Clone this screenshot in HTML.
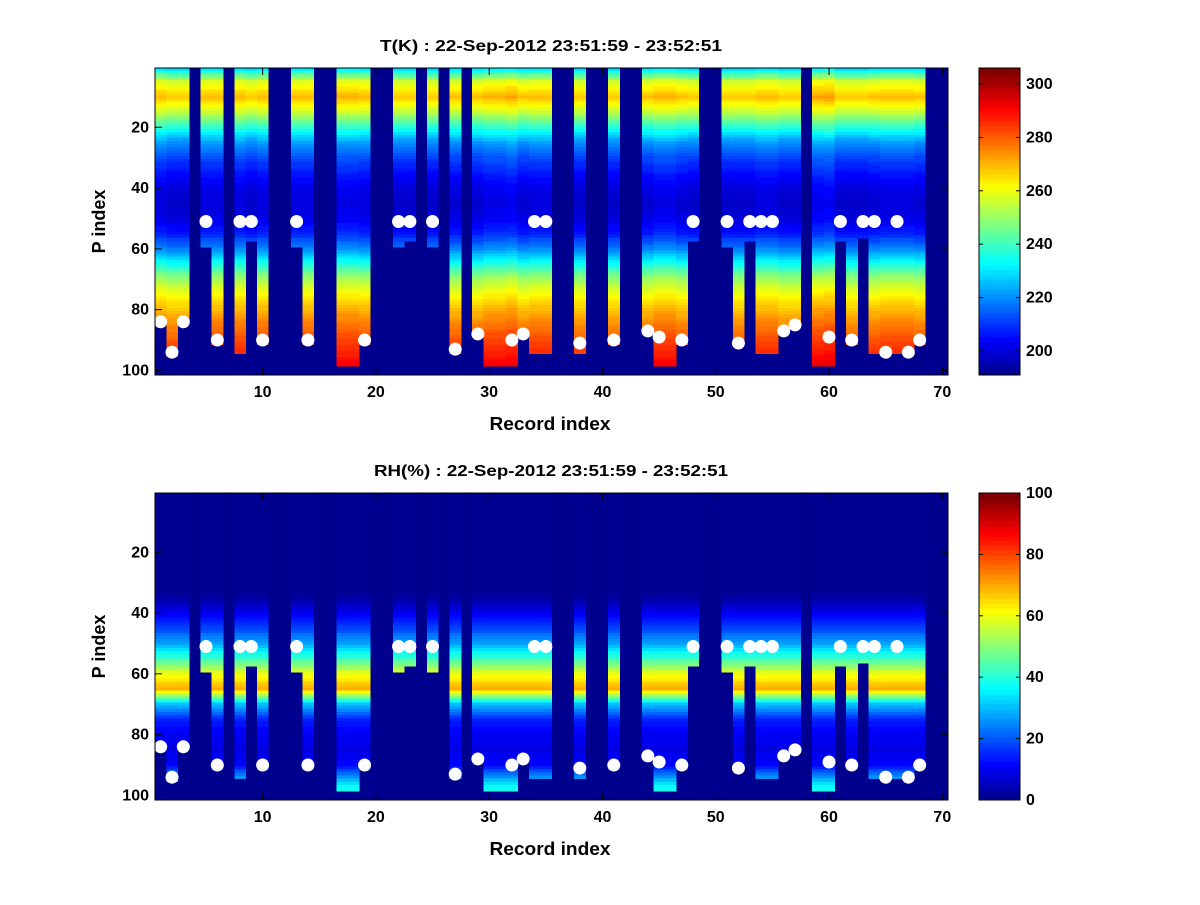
<!DOCTYPE html>
<html><head><meta charset="utf-8">
<style>
html,body{margin:0;padding:0;background:#fff;}
svg text{font-family:"Liberation Sans",Arial,sans-serif;font-weight:bold;}
</style></head>
<body>
<svg id="fig" width="1200" height="900" viewBox="0 0 1200 900" xmlns="http://www.w3.org/2000/svg">
<rect x="0" y="0" width="1200" height="900" fill="#fff"/>
</svg>
<script>
// ---- data ----
const recordIdx = Array.from({length:70},(_,i)=>i+1);
// last valid P index per record (0 = no data)
const lastLevel = [84,95,84,0,59,91,0,94,57,91,0,0,59,91,0,0,98,98,91,0,0,59,57,0,59,0,94,0,88,98,98,98,88,94,94,0,0,94,0,0,91,0,0,87,98,98,91,57,0,0,59,91,57,94,94,87,85,0,98,98,57,91,56,94,94,94,94,91,0,0];
// white marker P index per record (0 = none)
const markerLevel = [84,94,84,0,51,90,0,51,51,90,0,0,51,90,0,0,0,0,90,0,0,51,51,0,51,0,93,0,88,0,0,90,88,51,51,0,0,91,0,0,90,0,0,87,89,0,90,51,0,0,51,91,51,51,51,87,85,0,0,89,51,90,51,51,94,51,94,90,0,0];
// profile sample levels (P index)
const profLevels = [1,5,10,15,20,25,30,35,40,45,50,55,60,65,70,75,80,85,90,95,100];
const tProfile = [230,256,268,254,236,220,211,205,200,198,200,206,218,234,250,260,268,275,280,285,290];
const rhProfile = [0,0,0,0,0,0,0,2,10,18,28,42,60,70,30,15,10,9,12,30,45];
const tOffset = [2,0,0,0,2,2,0,2,0,2,0,0,2,2,0,0,3,3,2,0,0,0,0,0,0,0,1,0,1,3,3,4,1,2,2,0,0,0,0,0,0,0,0,1,3,3,1,0,0,0,0,0,0,2,2,0,0,0,4,5,0,0,0,1,2,2,2,1,0,0];
const tTicks = [200,220,240,260,280,300];
const rhTicks = [0,20,40,60,80,100];
const yTicks = [20,40,60,80,100];
const xTicks = [10,20,30,40,50,60,70];

const NS="http://www.w3.org/2000/svg";
const svg=document.getElementById('fig');
function mk(tag,attrs,parent){const e=document.createElementNS(NS,tag);for(const k in attrs)e.setAttribute(k,attrs[k]);(parent||svg).appendChild(e);return e;}
function jet(t){t=Math.max(0,Math.min(0.99999,t));const i=Math.floor(t*64);const q=(i+1.125)/64;
 const c=v=>Math.round(255*Math.max(0,Math.min(1,v)));
 return `rgb(${c(1.5-Math.abs(4*q-3))},${c(1.5-Math.abs(4*q-2))},${c(1.5-Math.abs(4*q-1))})`;}
function prof(arr,p){for(let k=0;k<profLevels.length-1;k++){if(p<=profLevels[k+1]){const a=profLevels[k],b=profLevels[k+1];return arr[k]+(arr[k+1]-arr[k])*(p-a)/(b-a);}}return arr[arr.length-1];}

const X0=155,X1=948;
const xS=v=>X0+(v-0.5)/70*(X1-X0);
function panel(top,title,titleLen,profArr,offArr,cmin,cmax,ticks,pname){
 const H=307;const yS=p=>top+(p-0.5)/101*H;
 const g=mk('g',{});
 
 
 const bg=mk('rect',{x:X0,y:top,width:X1-X0,height:H,fill:'rgb(0,0,143)'},g);
 
 
 const cells=mk('g',{'shape-rendering':'crispEdges'},g);
 
 
 recordIdx.forEach((r,i)=>{const L=lastLevel[i];
  for(let p=1;p<=L;p++){let v=prof(profArr,p)+(offArr?offArr[i]:0);
   const x=xS(r-0.5),y=yS(p-0.5);
   const c=mk('rect',{x:x.toFixed(2),y:y.toFixed(2),width:(xS(r+0.5)-x+0.4).toFixed(2),height:(yS(p+0.5)-y+0.4).toFixed(2),fill:jet((v-cmin)/(cmax-cmin))},cells);
   
   
  }});
 recordIdx.forEach((r,i)=>{const m=markerLevel[i];if(!m)return;
  const d=mk('circle',{cx:xS(r),cy:yS(m),r:6.5,fill:'#fff'},g);
  
  });
 mk('rect',{x:X0,y:top,width:X1-X0,height:H,fill:'none',stroke:'#000','stroke-width':1},g);
 xTicks.forEach(t=>{const x=xS(t);
  mk('line',{x1:x,x2:x,y1:top+H,y2:top+H-7,stroke:'#000'},g);
  mk('line',{x1:x,x2:x,y1:top,y2:top+7,stroke:'#000'},g);
  const tx=mk('text',{x:x,y:top+H+22,'font-size':16,'text-anchor':'middle'},g);tx.textContent=t;
  
  });
 yTicks.forEach(t=>{const y=yS(t);
  mk('line',{x1:X0,x2:X0+7,y1:y,y2:y,stroke:'#000'},g);
  mk('line',{x1:X1,x2:X1-7,y1:y,y2:y,stroke:'#000'},g);
  const tx=mk('text',{x:X0-6,y:y+5,'font-size':16,'text-anchor':'end'},g);tx.textContent=t;
  
  });
 const tt=mk('text',{x:551,y:top-17,'font-size':16,'text-anchor':'middle',textLength:titleLen,lengthAdjust:'spacingAndGlyphs'},g);tt.textContent=title;
 
 
 const xl=mk('text',{x:550,y:top+H+55,'font-size':18,'text-anchor':'middle',textLength:121,lengthAdjust:'spacingAndGlyphs'},g);xl.textContent='Record index';
 
 
 const yl=mk('text',{x:105,y:top+H/2,'font-size':18,'text-anchor':'middle',transform:`rotate(-90 105 ${top+H/2})`},g);yl.textContent='P index';
 
 
 // colorbar
 const CX=979,CW=41;const cb=mk('g',{'shape-rendering':'crispEdges'},g);
 
 
 for(let k=0;k<64;k++){const y=top+H-(k+1)*H/64;
  mk('rect',{x:CX,y:y.toFixed(2),width:CW,height:(H/64+0.5).toFixed(2),fill:jet((k+0.5)/64)},cb);}
 mk('rect',{x:CX,y:top,width:CW,height:H,fill:'none',stroke:'#000'},g);
 ticks.forEach(t=>{const y=top+H-(t-cmin)/(cmax-cmin)*H;
  mk('line',{x1:CX,x2:CX+4,y1:y,y2:y,stroke:'#000'},g);
  mk('line',{x1:CX+CW,x2:CX+CW-4,y1:y,y2:y,stroke:'#000'},g);
  const tx=mk('text',{x:CX+CW+6,y:y+5,'font-size':16},g);tx.textContent=t;
  
  });
}
panel(68,'T(K) : 22-Sep-2012 23:51:59 - 23:52:51',342,tProfile,tOffset,191,306,tTicks,'temperature');
panel(493,'RH(%) : 22-Sep-2012 23:51:59 - 23:52:51',354,rhProfile,null,0,100,rhTicks,'humidity');
</script>
</body></html>
